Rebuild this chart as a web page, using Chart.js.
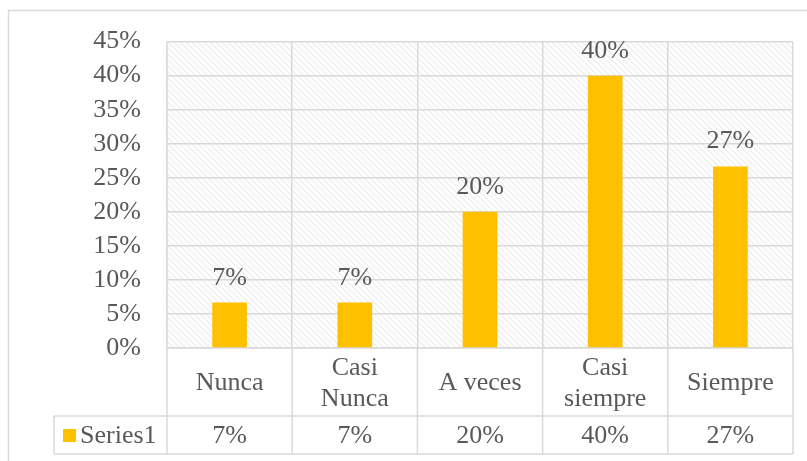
<!DOCTYPE html>
<html>
<head>
<meta charset="utf-8">
<style>
  html, body { margin: 0; padding: 0; background: #fff; }
  #wrap { width: 807px; height: 461px; position: relative; }
</style>
<script src="https://cdn.jsdelivr.net/npm/chart.js@4.4.1/dist/chart.umd.min.js"></script>
</head>
<body>
<div id="wrap"><canvas id="chart"></canvas></div>
<script>
// data
const categories = [["Nunca"], ["Casi", "Nunca"], ["A veces"], ["Casi", "siempre"], ["Siempre"]];
const seriesName = "Series1";
const values = [6.67, 6.67, 20, 40, 26.67];
const yMax = 45;
const yStep = 5;

const textColor = "#595959";
const lineColor = "#d9d9d9";
const barColor = "#FFC000";
const fontFamily = "'Liberation Serif', 'Times New Roman', serif";
const fontSize = 26;

const pct = v => Math.round(v) + "%";

// light diagonal hatch like the Excel plot area fill
function hatchPattern(ctx) {
    const c = document.createElement("canvas");
    c.width = 6; c.height = 6;
    const g = c.getContext("2d");
    g.fillStyle = "#fff";
    g.fillRect(0, 0, 6, 6);
    g.strokeStyle = "#eeeeee";
    g.lineWidth = 1.3;
    g.beginPath();
    g.moveTo(-1, -1); g.lineTo(7, 7);
    g.moveTo(-1, 5); g.lineTo(1, 7);
    g.moveTo(5, -1); g.lineTo(7, 1);
    g.stroke();
    return ctx.createPattern(c, "repeat");
}

const tablePlugin = {
    id: "excelTable",
    beforeDraw(chart) {
        const ctx = chart.ctx, a = chart.chartArea;
        ctx.save();
        // outer chart frame
        ctx.strokeStyle = lineColor;
        ctx.lineWidth = 1.5;
        ctx.strokeRect(8.5, 10.5, 1000, 1000);
        ctx.fillStyle = hatchPattern(ctx);
        ctx.fillRect(a.left, a.top, a.right - a.left, a.bottom - a.top);
        ctx.restore();
    },
    afterDatasetsDraw(chart) {
        const ctx = chart.ctx;
        const meta = chart.getDatasetMeta(0);
        ctx.save();
        ctx.fillStyle = textColor;
        ctx.font = fontSize + "px " + fontFamily;
        ctx.textAlign = "center";
        ctx.textBaseline = "alphabetic";
        meta.data.forEach((bar, i) => {
            ctx.fillText(pct(values[i]), bar.x, bar.y - 18);
        });
        ctx.restore();
    },
    afterDraw(chart) {
        const ctx = chart.ctx, x = chart.scales.x, a = chart.chartArea;
        const n = categories.length;
        const w = (x.right - x.left) / n;
        const rowTop = x.bottom, rowBottom = rowTop + 38, legendLeft = 54;
        ctx.save();
        ctx.strokeStyle = lineColor;
        ctx.lineWidth = 1.5;
        ctx.beginPath();
        for (let i = 0; i <= n; i++) {
            const px = x.left + i * w;
            ctx.moveTo(px, a.bottom);
            ctx.lineTo(px, rowBottom);
        }
        ctx.moveTo(legendLeft, rowTop); ctx.lineTo(legendLeft, rowBottom);
        ctx.moveTo(legendLeft, rowTop); ctx.lineTo(x.right, rowTop);
        ctx.moveTo(legendLeft, rowBottom); ctx.lineTo(x.right, rowBottom);
        ctx.stroke();

        const cy = (rowTop + rowBottom) / 2 + 1;
        ctx.fillStyle = barColor;
        ctx.fillRect(63, cy - 7, 13, 13);
        ctx.fillStyle = textColor;
        ctx.font = fontSize + "px " + fontFamily;
        ctx.textBaseline = "middle";
        ctx.textAlign = "left";
        ctx.fillText(seriesName, 80, cy);
        ctx.textAlign = "center";
        values.forEach((v, i) => ctx.fillText(pct(v), x.left + (i + 0.5) * w, cy));
        ctx.restore();
    }
};

new Chart("chart", {
    type: "bar",
    data: {
        labels: categories,
        datasets: [{
            label: seriesName,
            data: values,
            backgroundColor: barColor,
            borderWidth: 0,
            categoryPercentage: 1,
            barPercentage: 0.277
        }]
    },
    options: {
        responsive: true,
        maintainAspectRatio: false,
        animation: false,
        layout: {
            padding: { left: 0, top: 40, right: 14, bottom: 45 }
        },
        plugins: {
            legend: { display: false },
            tooltip: { enabled: false }
        },
        scales: {
            x: {
                grid: { color: lineColor, lineWidth: 1.5, drawTicks: false, offset: true },
                border: { color: lineColor, width: 1.5 },
                ticks: {
                    color: textColor,
                    font: { family: fontFamily, size: fontSize, lineHeight: 1.2 },
                    padding: 20,
                    crossAlign: "center",
                    maxRotation: 0,
                    autoSkip: false
                },
                afterFit(scale) { scale.height = 68; }
            },
            y: {
                min: 0,
                max: yMax,
                grid: { color: lineColor, lineWidth: 1.5, drawTicks: false },
                border: { color: lineColor, width: 1.5 },
                ticks: {
                    stepSize: yStep,
                    autoSkip: false,
                    color: textColor,
                    font: { family: fontFamily, size: fontSize },
                    padding: 26,
                    callback: v => v + "%"
                },
                afterFit(scale) { scale.width = 167; }
            }
        }
    },
    plugins: [tablePlugin]
});
</script>
</body>
</html>
